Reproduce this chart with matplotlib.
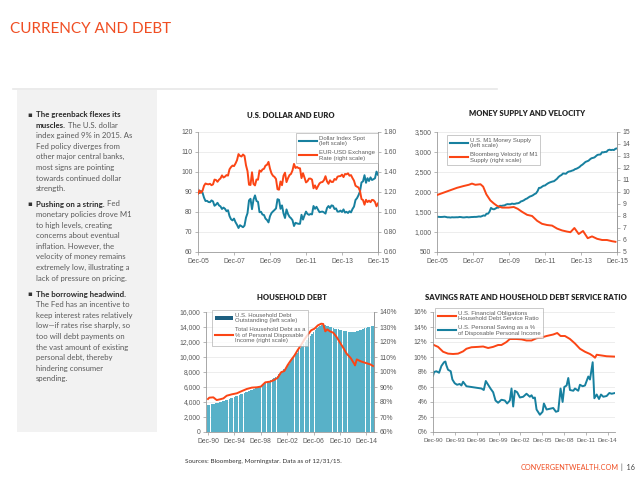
import numpy as np
import matplotlib
matplotlib.use('Agg')
import matplotlib.pyplot as plt
from matplotlib.lines import Line2D
from matplotlib.patches import Patch, Rectangle

# ---------------- DATA ----------------
# Chart 1: U.S. Dollar and Euro (monthly, Dec-05 .. Dec-15)
dxy = [91.2,
       89.5, 90.5, 89.7, 87.2, 85.5, 85.6, 85.0, 84.9, 85.8, 85.3, 83.1, 83.7,
       84.6, 83.3, 82.8, 81.5, 82.2, 81.6, 80.4, 80.9, 78.0, 76.4, 75.8, 76.7,
       74.9, 73.6, 72.0, 73.4, 72.9, 72.4, 73.2, 77.2, 79.4, 85.8, 86.6, 81.4,
       86.2, 88.3, 85.5, 85.1, 79.9, 80.1, 78.7, 78.5, 76.7, 76.0, 74.8, 77.9,
       79.5, 80.3, 81.0, 81.8, 86.4, 86.1, 81.6, 83.3, 79.3, 77.0, 81.3, 79.0,
       77.6, 76.9, 75.9, 73.0, 74.6, 74.3, 74.1, 74.1, 78.6, 76.2, 78.3, 80.2,
       79.0, 78.6, 79.0, 78.8, 83.0, 81.6, 82.6, 81.2, 79.9, 80.1, 80.2, 79.8,
       79.2, 82.0, 83.0, 82.0, 83.3, 83.1, 81.5, 81.8, 80.2, 80.2, 80.7, 80.0,
       81.3, 79.7, 80.1, 79.5, 80.4, 79.8, 81.5, 82.7, 86.0, 86.9, 88.4, 90.3,
       94.8, 95.3, 98.4, 94.6, 96.9, 95.5, 97.3, 96.0, 96.4, 96.9, 100.2, 98.6]
eurusd = [1.184,
          1.216, 1.192, 1.212, 1.262, 1.285, 1.279, 1.277, 1.282, 1.268, 1.276, 1.324, 1.320,
          1.302, 1.323, 1.336, 1.366, 1.345, 1.354, 1.369, 1.364, 1.427, 1.449, 1.464, 1.459,
          1.485, 1.518, 1.579, 1.561, 1.555, 1.575, 1.561, 1.467, 1.409, 1.273, 1.270, 1.397,
          1.280, 1.266, 1.325, 1.323, 1.416, 1.403, 1.426, 1.432, 1.464, 1.472, 1.501, 1.433,
          1.386, 1.362, 1.351, 1.330, 1.228, 1.223, 1.305, 1.268, 1.363, 1.393, 1.299, 1.338,
          1.369, 1.381, 1.416, 1.481, 1.440, 1.450, 1.439, 1.437, 1.339, 1.388, 1.344, 1.296,
          1.308, 1.334, 1.334, 1.324, 1.237, 1.266, 1.230, 1.258, 1.286, 1.297, 1.300, 1.319,
          1.358, 1.306, 1.282, 1.317, 1.300, 1.301, 1.330, 1.322, 1.353, 1.358, 1.359, 1.374,
          1.349, 1.380, 1.377, 1.387, 1.363, 1.369, 1.339, 1.313, 1.263, 1.253, 1.245, 1.210,
          1.129, 1.120, 1.073, 1.122, 1.099, 1.114, 1.098, 1.121, 1.118, 1.100, 1.057, 1.086]

# Chart 2: Money supply (monthly, Dec-05 .. Dec-15) and velocity (read points)
m1 = [1375,
      1380, 1375, 1376, 1378, 1383, 1376, 1366, 1367, 1361, 1369, 1366, 1367,
      1369, 1368, 1376, 1373, 1366, 1364, 1369, 1373, 1367, 1370, 1374, 1375,
      1378, 1377, 1382, 1389, 1384, 1397, 1414, 1407, 1457, 1457, 1506, 1603,
      1575, 1567, 1586, 1610, 1608, 1656, 1652, 1661, 1664, 1686, 1697, 1694,
      1694, 1710, 1702, 1704, 1716, 1719, 1734, 1765, 1776, 1795, 1822, 1837,
      1864, 1888, 1900, 1920, 1947, 1966, 2019, 2103, 2104, 2132, 2156, 2163,
      2192, 2217, 2236, 2250, 2262, 2270, 2300, 2330, 2375, 2405, 2425, 2463,
      2460, 2456, 2494, 2512, 2519, 2534, 2545, 2571, 2582, 2602, 2625, 2661,
      2685, 2718, 2752, 2767, 2782, 2817, 2844, 2853, 2865, 2898, 2928, 2935,
      2938, 2994, 2991, 3002, 3004, 3045, 3058, 3048, 3055, 3049, 3082, 3090]
vel_dates = [2005.92, 2006.29, 2006.66, 2007.03, 2007.40, 2007.68, 2007.86, 2008.05,
             2008.33, 2008.48, 2008.66, 2008.88, 2009.07, 2009.25, 2009.53, 2009.90,
             2010.18, 2010.40, 2010.64, 2010.92, 2011.20, 2011.48, 2011.75, 2012.03,
             2012.31, 2012.59, 2012.86, 2013.14, 2013.33, 2013.55, 2013.79, 2014.03,
             2014.29, 2014.53, 2014.81, 2015.09, 2015.36, 2015.64, 2015.83]
vel_vals = [9.75, 9.95, 10.15, 10.35, 10.5, 10.6, 10.7, 10.6,
            10.65, 10.45, 9.8, 9.3, 9.05, 8.85, 8.7, 8.7,
            8.75, 8.6, 8.35, 8.1, 8.0, 7.6, 7.35, 7.25,
            7.2, 6.95, 6.8, 6.7, 6.65, 7.0, 6.5, 6.75,
            6.15, 6.3, 6.1, 6.0, 6.0, 5.9, 5.85]

# Chart 3: Household debt (quarterly, Dec-90 .. Dec-15, $bn) and debt / income (%)
debt = [3620,
        3650, 3690, 3730, 3780,
        3830, 3890, 3960, 4020,
        4090, 4170, 4250, 4330,
        4410, 4500, 4590, 4680,
        4770, 4860, 4950, 5040,
        5120, 5210, 5300, 5390,
        5470, 5560, 5650, 5740,
        5830, 5940, 6060, 6180,
        6300, 6430, 6560, 6690,
        6820, 6950, 7090, 7230,
        7370, 7530, 7700, 7870,
        8100, 8350, 8600, 8850,
        9100, 9400, 9700, 10000,
        10300, 10600, 10900, 11200,
        11500, 11800, 12050, 12300,
        12550, 12850, 13100, 13350,
        13600, 13850, 14050, 14200,
        14300, 14320, 14280, 14200,
        14120, 14050, 13950, 13900,
        13800, 13730, 13680, 13620,
        13560, 13500, 13450, 13420,
        13380, 13370, 13360, 13380,
        13400, 13450, 13500, 13580,
        13650, 13750, 13830, 13900,
        13980, 14060, 14150, 14200]
ratio_dates = [1990.92, 1991.12, 1991.73, 1992.24, 1992.75, 1993.25, 1993.76, 1994.52,
               1995.29, 1996.05, 1996.81, 1997.57, 1998.33, 1998.94, 1999.60, 2000.36,
               2000.97, 2001.48, 2001.99, 2002.49, 2003.00, 2003.51, 2004.02, 2004.52,
               2005.03, 2005.54, 2006.05, 2006.55, 2007.06, 2007.57, 2008.08, 2008.38,
               2008.69, 2008.99, 2009.40, 2009.90, 2010.41, 2010.92, 2011.43, 2011.93,
               2012.54, 2013.05, 2013.20, 2013.46, 2014.07, 2014.83, 2015.49, 2015.92]
ratio_vals = [82.0, 82.9, 83.1, 81.3, 81.8, 82.4, 84.2, 85.1,
              85.8, 87.3, 88.7, 89.6, 89.8, 90.3, 93.1, 93.6,
              94.7, 96.2, 99.8, 100.7, 104.7, 108.0, 111.0, 114.7,
              118.0, 121.8, 124.9, 127.8, 128.9, 131.1, 132.2, 132.0,
              127.1, 128.4, 127.1, 126.2, 123.3, 119.6, 116.0, 112.2,
              109.3, 105.6, 104.4, 108.4, 107.1, 106.0, 105.1, 104.0]

# Chart 4: Debt service ratio and personal saving rate (%)
dsr_dates = [1990.92, 1991.61, 1992.30, 1992.98, 1993.67, 1994.36, 1995.05, 1995.51,
             1996.20, 1997.11, 1997.80, 1998.49, 1999.18, 1999.86, 2000.32, 2001.01,
             2001.47, 2002.39, 2003.08, 2003.76, 2004.45, 2005.14, 2005.83, 2006.52,
             2007.43, 2007.98, 2008.44, 2009.04, 2009.73, 2010.42, 2011.10, 2011.79,
             2012.48, 2012.94, 2013.17, 2013.40, 2014.09, 2014.77, 2015.92]
dsr_vals = [11.65, 11.35, 10.7, 10.45, 10.4, 10.45, 10.75, 11.1,
            11.3, 11.35, 11.4, 11.2, 11.35, 11.6, 11.6, 12.0,
            12.4, 12.4, 12.35, 12.2, 12.2, 12.5, 12.6, 12.8,
            13.0, 13.2, 12.8, 12.8, 12.4, 11.8, 11.1, 10.7,
            10.4, 10.1, 9.9, 10.3, 10.2, 10.1, 10.05]
sav_dates = [1990.92, 1991.06, 1991.38, 1991.75, 1992.07, 1992.43, 1992.62, 1992.75,
             1992.98, 1993.35, 1993.58, 1993.90, 1994.22, 1994.59, 1994.82, 1995.05,
             1995.51, 1996.20, 1996.88, 1997.57, 1997.89, 1998.17, 1998.49, 1998.81,
             1999.18, 1999.50, 1999.86, 2000.32, 2000.78, 2001.10, 2001.47, 2001.70,
             2001.93, 2002.16, 2002.48, 2002.85, 2003.31, 2003.76, 2004.22, 2004.45,
             2004.68, 2004.91, 2005.14, 2005.60, 2005.97, 2006.15, 2006.52, 2006.98,
             2007.43, 2007.80, 2008.12, 2008.44, 2008.72, 2008.95, 2009.27, 2009.50,
             2009.73, 2010.19, 2010.42, 2010.87, 2011.10, 2011.47, 2011.79, 2012.25,
             2012.48, 2012.85, 2013.08, 2013.40, 2013.72, 2013.99, 2014.31, 2014.77,
             2015.14, 2015.46, 2015.92]
sav_vals = [7.5, 8.0, 8.1, 7.9, 8.8, 9.3, 9.4, 8.9,
            8.3, 8.1, 7.0, 6.5, 6.3, 6.4, 6.2, 6.7,
            6.1, 6.0, 5.9, 5.8, 5.6, 6.8, 6.3, 5.8,
            5.3, 4.2, 3.9, 4.3, 4.2, 3.8, 4.2, 5.8,
            3.4, 5.5, 5.3, 4.6, 4.7, 5.1, 4.7, 4.9,
            4.5, 4.6, 3.0, 2.3, 2.7, 3.8, 3.0, 3.1,
            3.2, 2.7, 2.8, 5.8, 4.0, 6.0, 6.2, 7.2,
            5.6, 5.5, 5.8, 5.5, 6.3, 6.1, 6.2, 7.4,
            7.0, 9.3, 4.5, 5.0, 4.4, 5.0, 4.7, 4.8,
            5.2, 5.1, 5.2]

# Text
page_title = 'CURRENCY AND DEBT'
chart_titles = ['U.S. DOLLAR AND EURO', 'MONEY SUPPLY AND VELOCITY',
                'HOUSEHOLD DEBT', 'SAVINGS RATE AND HOUSEHOLD DEBT SERVICE RATIO']
bullets = [
    [('The greenback flexes its', ''),
     ('muscles.', ' The U.S. dollar'),
     ('', 'index gained 9% in 2015. As'),
     ('', 'Fed policy diverges from'),
     ('', 'other major central banks,'),
     ('', 'most signs are pointing'),
     ('', 'towards continued dollar'),
     ('', 'strength.')],
    [('Pushing on a string.', ' Fed'),
     ('', 'monetary policies drove M1'),
     ('', 'to high levels, creating'),
     ('', 'concerns about eventual'),
     ('', 'inflation. However, the'),
     ('', 'velocity of money remains'),
     ('', 'extremely low, illustrating a'),
     ('', 'lack of pressure on pricing.')],
    [('The borrowing headwind.', ''),
     ('', 'The Fed has an incentive to'),
     ('', 'keep interest rates relatively'),
     ('', 'low\u2014if rates rise sharply, so'),
     ('', 'too will debt payments on'),
     ('', 'the vast amount of existing'),
     ('', 'personal debt, thereby'),
     ('', 'hindering consumer'),
     ('', 'spending.')],
]

# ---------------- STYLE ----------------
BLUE = '#17809f'
ORANGE = '#fb4515'
BARC = '#58b1c8'
TITLE_ORANGE = '#f04e23'
TICKC = '#5a5a5a'
SPINEC = '#9a9a9a'
GRIDC = '#e6e6e6'
TICKF = ['Liberation Sans Narrow', 'Liberation Sans', 'DejaVu Sans']
TXTF = ['Lato', 'DejaVu Sans']
plt.rcParams['font.family'] = TICKF

W, H = 640, 480
fig = plt.figure(figsize=(6.4, 4.8), dpi=100)
fig.patch.set_facecolor('white')


def fx(x):
    return x / W


def fy(y):
    return 1 - y / H


def axes_px(x0, y0, x1, y1):
    return fig.add_axes([fx(x0), fy(y1), (x1 - x0) / W, (y1 - y0) / H])


def style(ax, right_spine=True):
    ax.spines['top'].set_visible(False)
    ax.spines['right'].set_visible(right_spine)
    for s in ['left', 'bottom', 'right']:
        ax.spines[s].set_color(SPINEC)
        ax.spines[s].set_linewidth(0.6)
    ax.tick_params(axis='both', labelsize=4.9, labelcolor=TICKC, color=SPINEC,
                   length=2, width=0.5, pad=2)
    ax.yaxis.grid(True, color=GRIDC, lw=0.5)
    ax.set_axisbelow(True)


def style_twin(ax):
    ax.spines['top'].set_visible(False)
    ax.spines['left'].set_visible(False)
    ax.spines['bottom'].set_visible(False)
    ax.spines['right'].set_color(SPINEC)
    ax.spines['right'].set_linewidth(0.6)
    ax.tick_params(axis='y', labelsize=4.9, labelcolor=TICKC, color=SPINEC,
                   length=2, width=0.5, pad=2)
    ax.patch.set_visible(False)


def legend(ax, handles, labels, x1, y0, loc='upper right'):
    leg = ax.legend(handles, labels, loc=loc, bbox_to_anchor=(fx(x1), fy(y0)),
                    bbox_transform=fig.transFigure, fontsize=4.3, frameon=True,
                    fancybox=False, edgecolor='#a0a0a0', handlelength=3.0,
                    handletextpad=0.4, borderpad=0.45, labelspacing=0.55,
                    borderaxespad=0)
    leg.get_frame().set_linewidth(0.5)
    for t in leg.get_texts():
        t.set_color('#606060')
    return leg


def dec_ticks(ax, years):
    ax.set_xticks([y + 11 / 12 for y in years])
    ax.set_xticklabels(['Dec-%02d' % (y % 100) for y in years])


# ---------------- PAGE ----------------
fig.patches.append(Rectangle((fx(17), fy(432)), (157 - 17) / W, (432 - 90) / H,
                             transform=fig.transFigure, facecolor='#f2f2f2',
                             edgecolor='none', zorder=0))
fig.lines.append(Line2D([fx(13), fx(497)], [fy(89), fy(89)], transform=fig.transFigure,
                        color='#e8e8e8', lw=1.2))
fig.text(fx(10), fy(29), page_title, color=TITLE_ORANGE, fontsize=11,
         family=TXTF, va='center', ha='left')

renderer = fig.canvas.get_renderer()
group_start = [115, 204.5, 294.5]
LS = 10.6
for g, lines in enumerate(bullets):
    y = group_start[g]
    fig.text(fx(27), fy(y + 2), '\u25aa', fontsize=5, color='#333333',
             family=['DejaVu Sans'], va='baseline', ha='left')
    for bold, reg in lines:
        xb = fx(36)
        if bold:
            t = fig.text(xb, fy(y + 2), bold, fontsize=5.7, weight='bold',
                         color='#2a2a2a', family=TXTF, va='baseline', ha='left')
            bb = t.get_window_extent(renderer=renderer)
            xb = bb.x1 / fig.bbox.width
        if reg:
            fig.text(xb, fy(y + 2), reg, fontsize=5.6, color='#5a5a5a',
                     family=TXTF, va='baseline', ha='left')
        y += LS

# chart titles
title_pos = [(291, 115), (527, 114), (292, 298), (526, 298)]
for (tx, ty), tt in zip(title_pos, chart_titles):
    fig.text(fx(tx), fy(ty), tt, fontsize=5.5, weight='heavy', color='#262626',
             family=TXTF, ha='center', va='center')

# footer
fig.text(fx(185), fy(461), 'Sources: Bloomberg, Morningstar. Data as of 12/31/15.',
         fontsize=4.6, color='#333333', family=TXTF, ha='left', va='center')
fig.text(fx(619), fy(467), 'CONVERGENTWEALTH.COM', fontsize=5.2, color=TITLE_ORANGE,
         family=TXTF, ha='right', va='center')
fig.text(fx(621), fy(467), '|  16', fontsize=5.2, color='#444444',
         family=TXTF, ha='left', va='center')

# ---------------- CHART 1 ----------------
d_month = 2005 + 11 / 12 + np.arange(len(dxy)) / 12
ax1 = axes_px(198, 132, 378, 252)
style(ax1)
ax1b = ax1.twinx()
style_twin(ax1b)
ax1.plot(d_month, dxy, color=BLUE, lw=1.4)
ax1b.plot(d_month, eurusd, color=ORANGE, lw=1.4)
ax1.set_xlim(2005 + 11 / 12, 2015 + 11 / 12)
ax1.set_ylim(60, 120)
ax1.set_yticks(np.arange(60, 121, 10))
ax1b.set_ylim(0.6, 1.8)
ax1b.set_yticks(np.round(np.arange(0.6, 1.81, 0.2), 2))
ax1b.set_yticklabels(['%.2f' % v for v in np.arange(0.6, 1.81, 0.2)])
dec_ticks(ax1, range(2005, 2016, 2))
legend(ax1b, [Line2D([], [], color=BLUE, lw=1.5), Line2D([], [], color=ORANGE, lw=1.5)],
       ['Dollar Index Spot\n(left scale)', 'EUR-USD Exchange\nRate (right scale)'], 378, 133)

# ---------------- CHART 2 ----------------
ax2 = axes_px(437, 132, 617, 252)
style(ax2)
ax2b = ax2.twinx()
style_twin(ax2b)
ax2.plot(d_month, m1, color=BLUE, lw=1.4)
ax2b.plot(vel_dates, vel_vals, color=ORANGE, lw=1.4)
ax2.set_xlim(2005 + 11 / 12, 2015 + 11 / 12)
ax2.set_ylim(500, 3500)
ax2.set_yticks(np.arange(500, 3501, 500))
ax2.set_yticklabels(['{:,}'.format(v) for v in range(500, 3501, 500)])
ax2b.set_ylim(5, 15)
ax2b.set_yticks(np.arange(5, 16, 1))
dec_ticks(ax2, range(2005, 2016, 2))
legend(ax2b, [Line2D([], [], color=BLUE, lw=1.5), Line2D([], [], color=ORANGE, lw=1.5)],
       ['U.S. M1 Money Supply\n(left scale)', 'Bloomberg Velocity of M1\nSupply (right scale)'],
       447, 135, loc='upper left')

# ---------------- CHART 3 ----------------
d_q = 1990 + 11 / 12 + 0.25 * np.arange(len(debt))
ax3 = axes_px(206, 312, 374, 432)
style(ax3)
ax3b = ax3.twinx()
style_twin(ax3b)
ax3.bar(d_q, debt, width=0.22, color=BARC, edgecolor='none', align='center')
ax3b.plot(ratio_dates, ratio_vals, color=ORANGE, lw=1.4)
ax3.set_xlim(1990.62, 2016.07)
ax3.set_ylim(0, 16000)
ax3.set_yticks(np.arange(0, 16001, 2000))
ax3.set_yticklabels(['{:,}'.format(v) for v in range(0, 16001, 2000)])
ax3b.set_ylim(60, 140)
ax3b.set_yticks(np.arange(60, 141, 10))
ax3b.set_yticklabels(['%d%%' % v for v in range(60, 141, 10)])
dec_ticks(ax3, range(1990, 2015, 4))
legend(ax3b, [Patch(facecolor='#1d5f80', edgecolor='none'), Line2D([], [], color=ORANGE, lw=1.5)],
       ['U.S. Household Debt\nOutstanding (left scale)',
        'Total Household Debt as a\n% of Personal Disposable\nIncome (right scale)'],
       212, 310, loc='upper left')

# ---------------- CHART 4 ----------------
ax4 = axes_px(433, 312, 615, 432)
style(ax4, right_spine=False)
ax4.plot(dsr_dates, dsr_vals, color=ORANGE, lw=1.4)
ax4.plot(sav_dates, sav_vals, color=BLUE, lw=1.4)
ax4.set_xlim(1990 + 11 / 12, 2015 + 11 / 12)
ax4.set_ylim(0, 16)
ax4.set_yticks(np.arange(0, 17, 2))
ax4.set_yticklabels(['%d%%' % v for v in range(0, 17, 2)])
dec_ticks(ax4, range(1990, 2015, 3))
ax4.tick_params(axis='x', labelsize=4.4)
legend(ax4, [Line2D([], [], color=ORANGE, lw=1.5), Line2D([], [], color=BLUE, lw=1.5)],
       ['U.S. Financial Obligations\nHousehold Debt Service Ratio',
        'U.S. Personal Saving as a %\nof Disposable Personal Income'],
       435, 308, loc='upper left')

fig.savefig('out.png', dpi=100, facecolor='white')
